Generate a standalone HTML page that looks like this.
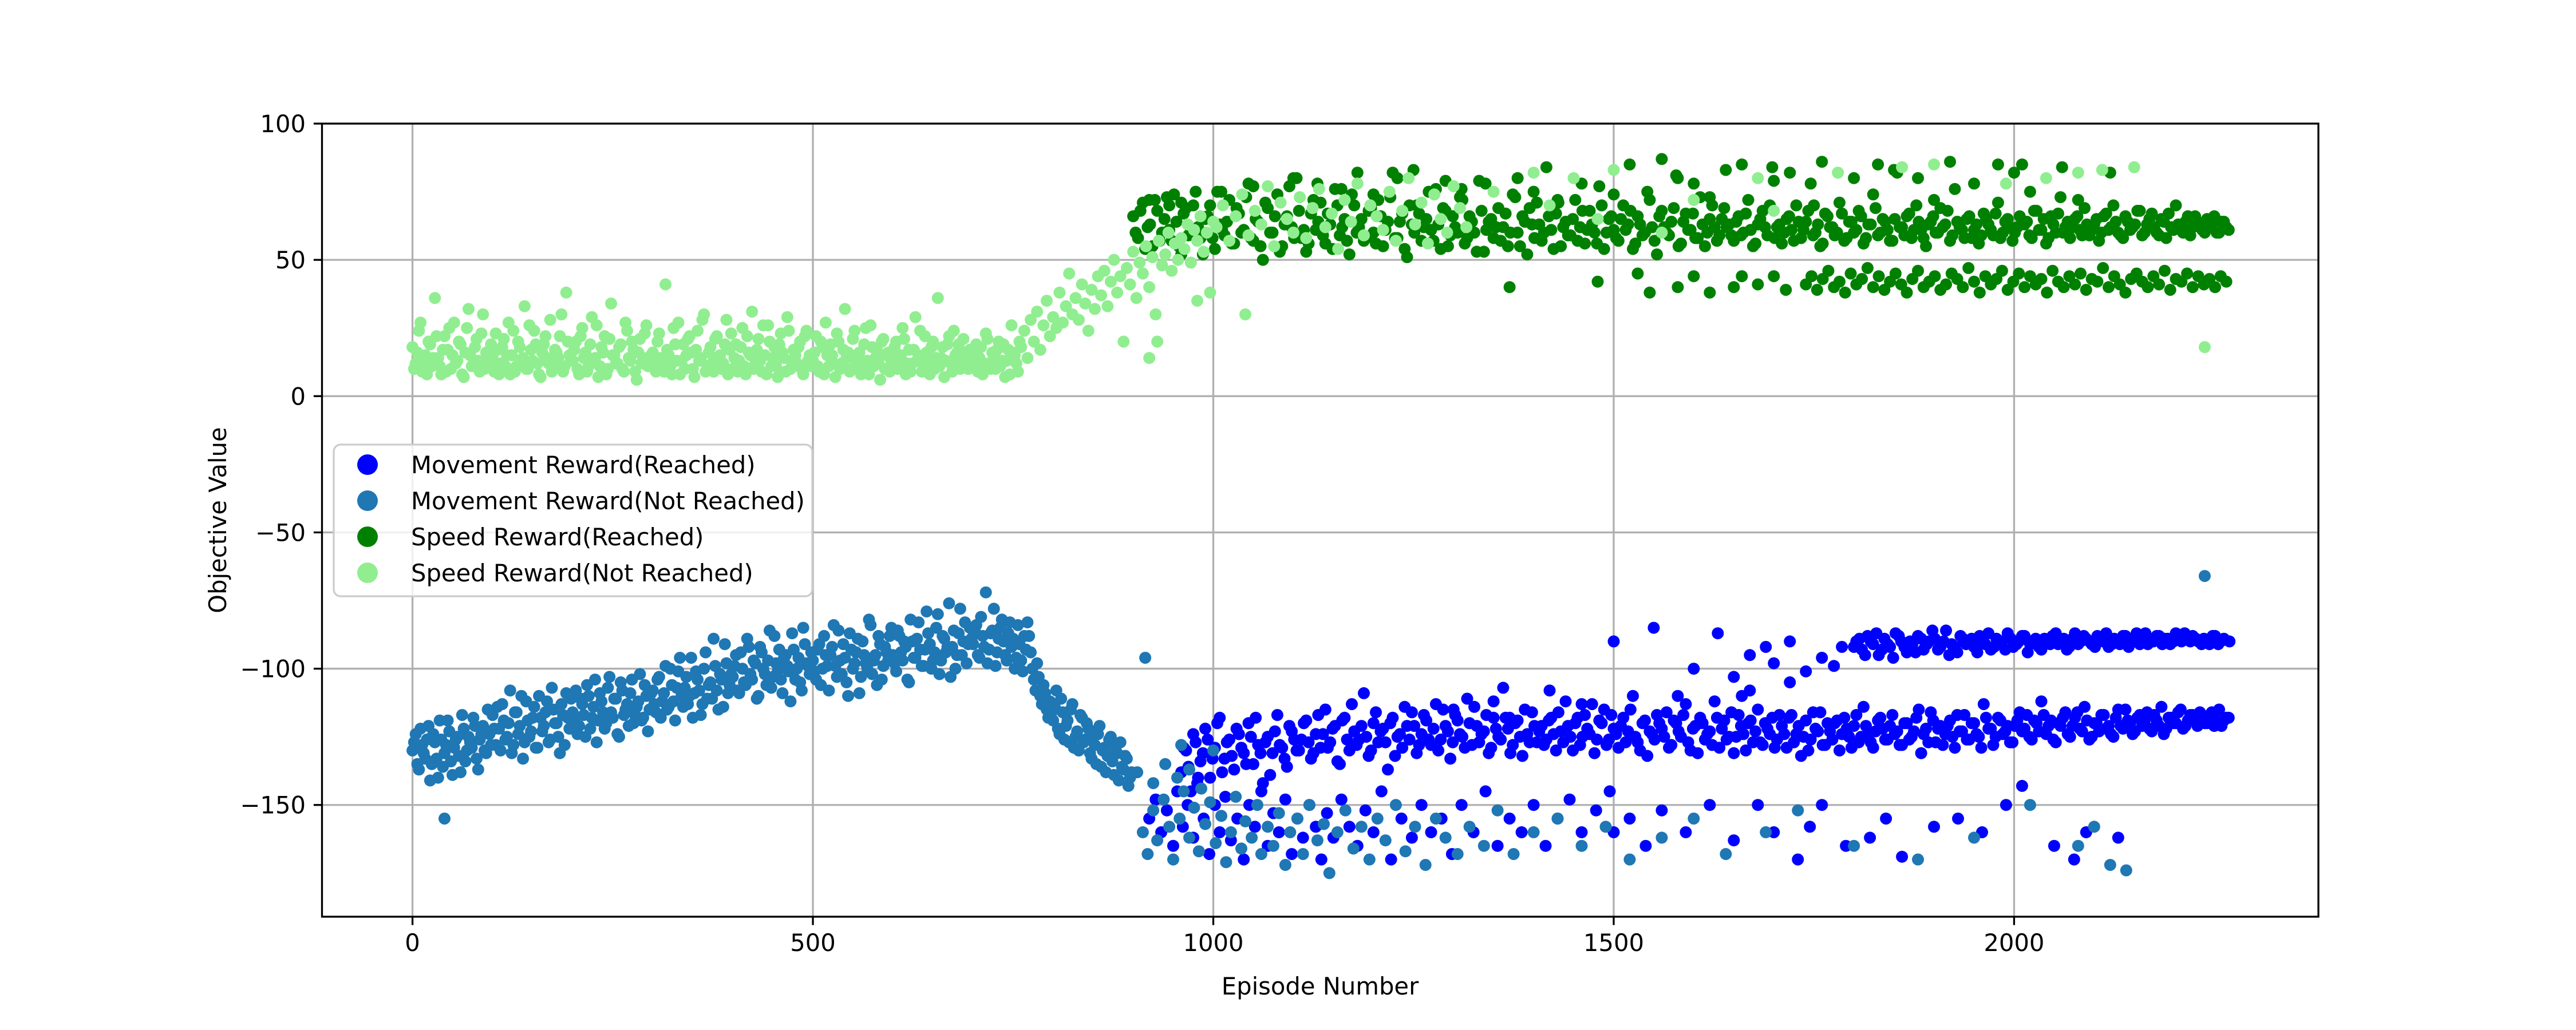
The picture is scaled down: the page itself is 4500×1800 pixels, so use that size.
<!DOCTYPE html>
<html><head><meta charset="utf-8"><style>
html,body{margin:0;padding:0;background:#fff;}
svg{display:block;font-family:"DejaVu Sans","Liberation Sans",sans-serif;}
</style></head><body>
<svg id="chart" width="4500" height="1800" viewBox="0 0 4500 1800" xmlns="http://www.w3.org/2000/svg">
<rect x="0" y="0" width="4500" height="1800" fill="#fff"/>
<g id="grid"></g>
<g id="marks"></g>
<g id="axes"></g>
<text x="2306" y="1738" font-size="41.7" text-anchor="middle">Episode Number</text>
<text transform="translate(395,909) rotate(-90)" font-size="41.7" text-anchor="middle">Objective Value</text>
<g id="legend">
<rect x="583" y="777" width="836" height="265" rx="12" fill="#fff" fill-opacity="0.8" stroke="#cccccc" stroke-width="3.3"/>
<g><circle cx="642" cy="812" r="18" fill="#0000ff"/><text x="718" y="827" font-size="41.7">Movement Reward(Reached)</text></g>
<g><circle cx="642" cy="875" r="18" fill="#1f77b4"/><text x="718" y="890" font-size="41.7">Movement Reward(Not Reached)</text></g>
<g><circle cx="642" cy="938" r="18" fill="#008000"/><text x="718" y="953" font-size="41.7">Speed Reward(Reached)</text></g>
<g><circle cx="642" cy="1001" r="18" fill="#90ee90"/><text x="718" y="1016" font-size="41.7">Speed Reward(Not Reached)</text></g>
</g>
</svg>
<script>
const xTicks = [0, 500, 1000, 1500, 2000];
const yTicks = [-150, -100, -50, 0, 50, 100];
const xTickLabels = ["0", "500", "1000", "1500", "2000"];
const yTickLabels = ["\u2212150", "\u2212100", "\u221250", "0", "50", "100"];

// Movement Reward (Not Reached) - dense early band, x = 0,4,8,...
const movNotDenseY = [
-130,-124,-137,-128,-133,-121,-135,-127,-140,-126,-131,-119,-134,-129,-125,-138,-122,-130,-127,-118,-133,-126,-121,-131,-124,
-117,-128,-122,-113,-126,-120,-131,-116,-124,-110,-127,-119,-123,-114,-129,-118,-121,-112,-126,-115,-120,-131,-117,-109,-122,
-116,-108,-121,-113,-125,-110,-118,-104,-119,-112,-122,-107,-116,-111,-124,-105,-117,-113,-109,-120,-114,-102,-118,-110,-115,
-108,-116,-103,-112,-99,-114,-106,-119,-101,-110,-107,-113,-96,-109,-104,-117,-100,-111,-105,-89,-108,-102,-114,-98,-106,
-103,-95,-109,-100,-106,-92,-104,-98,-110,-94,-102,-97,-107,-88,-101,-104,-96,-99,-112,-93,-100,-105,-85,-98,-102,
-97,-104,-91,-100,-95,-108,-92,-99,-86,-102,-96,-110,-93,-98,-89,-103,-95,-100,-84,-97,-106,-91,-99,-94,-88,
-95,-101,-88,-97,-92,-105,-90,-96,-83,-99,-93,-87,-100,-94,-80,-97,-89,-92,-103,-86,-95,-78,-90,-98,-85,
-91,-84,-96,-88,-72,-93,-86,-99,-89,-82,-95,-87,-92,-100,-84,-97,-88,-83,-94,-104,-98,-110,-106,-115,-112,
-119,-108,-124,-116,-121,-127,-113,-125,-130,-118,-126,-122,-133,-128,-124,-136,-129,-132,-125,-139,-131,-127,-137,-133,-140];
// second pass, x = 2,6,10,...
const movNotDense2Y = [
-127,-135,-122,-131,-126,-141,-124,-133,-119,-136,-128,-123,-139,-126,-132,-117,-134,-125,-129,-121,-137,-124,-130,-115,-128,
-122,-114,-130,-119,-125,-108,-128,-116,-121,-133,-112,-125,-118,-129,-110,-123,-116,-127,-107,-120,-125,-113,-128,-118,-111,
-119,-124,-111,-117,-106,-122,-114,-127,-109,-116,-120,-103,-118,-111,-125,-108,-115,-121,-104,-117,-112,-119,-106,-123,-109,
-113,-104,-118,-109,-115,-100,-112,-107,-96,-114,-103,-110,-118,-101,-108,-113,-94,-106,-111,-99,-115,-104,-91,-109,-102,
-99,-108,-94,-105,-89,-102,-97,-111,-92,-100,-106,-86,-103,-98,-93,-109,-95,-101,-87,-104,-96,-108,-91,-99,-94,
-101,-93,-106,-88,-99,-95,-84,-103,-97,-91,-105,-87,-100,-94,-109,-90,-98,-82,-102,-95,-88,-104,-92,-97,-85,
-98,-86,-94,-90,-104,-82,-96,-89,-93,-99,-79,-91,-97,-85,-102,-88,-94,-76,-92,-100,-87,-95,-83,-91,-89,
-86,-95,-81,-92,-98,-87,-78,-94,-85,-90,-97,-83,-89,-96,-91,-101,-93,-88,-100,-108,-103,-113,-109,-118,-116,
-114,-122,-111,-126,-119,-115,-129,-123,-117,-127,-120,-131,-125,-135,-121,-130,-138,-126,-134,-129,-141,-136,-132,-143,-138];
const movNotExtraX = [912,918,925,930,938,945,950,958,963,970,976,982,990,996,1003,1010,1016,1022,1028,1035,1040,1048,1055,1060,1068,1075,1082,1090,1096,1105,1112,1120,1130,1138,1145,1155,1165,1175,1185,1195,1205,1215,1228,1240,1252,1265,1278,1290,1305,1320,1338,1355,1375,1400,1430,1460,1490,1520,1560,1600,1640,1690,1730,1800,1880,1950,2020,2080,2100,2140,2120,40,2238,915,1000,960,905,925,940,955,970,985];
const movNotExtraY = [-160,-168,-152,-163,-148,-158,-170,-155,-145,-162,-151,-167,-157,-149,-164,-154,-171,-160,-147,-166,-156,-162,-150,-168,-158,-165,-153,-172,-160,-155,-168,-150,-163,-157,-175,-160,-152,-166,-158,-170,-155,-163,-150,-167,-158,-172,-155,-162,-168,-158,-165,-152,-168,-160,-155,-165,-158,-170,-162,-155,-168,-160,-152,-165,-170,-162,-150,-165,-158,-174,-172,-155,-66,-96,-130,-128,-138,-142,-135,-140,-137,-144];

// Movement Reward (Reached) main band, x = 960,966,...
const movReachMainY = [
-138,-130,-145,-127,-134,-122,-140,-129,-118,-133,-126,-137,-124,-131,-120,-135,-128,-142,-125,-131,-117,-129,-136,-123,-130,
-126,-119,-133,-124,-129,-115,-127,-121,-135,-118,-130,-123,-126,-109,-132,-120,-127,-122,-137,-118,-125,-129,-121,-116,-131,
-124,-119,-128,-113,-126,-121,-133,-117,-124,-129,-120,-114,-127,-123,-131,-118,-125,-107,-122,-128,-119,-132,-124,-116,-127,
-121,-126,-118,-130,-123,-112,-125,-120,-128,-117,-124,-131,-119,-115,-126,-122,-129,-118,-123,-110,-127,-120,-132,-124,-117,
-122,-116,-128,-120,-125,-113,-130,-121,-118,-126,-123,-112,-129,-119,-125,-131,-117,-124,-120,-127,-115,-128,-122,-118,-126,
-121,-129,-117,-124,-132,-119,-126,-122,-116,-128,-123,-120,-130,-118,-125,-121,-127,-114,-124,-129,-119,-122,-126,-117,-123,
-128,-120,-125,-118,-131,-122,-116,-127,-121,-124,-119,-129,-123,-117,-126,-120,-125,-113,-122,-128,-118,-124,-121,-127,-119,
-123,-117,-126,-120,-112,-124,-119,-127,-121,-116,-125,-118,-122,-114,-126,-120,-123,-117,-121,-125,-115,-122,-119,-124,-118,
-121,-116,-123,-119,-114,-122,-118,-120,-115,-121,-117,-119,-116,-120,-117,-121,-115,-119,-118];
// second pass, x = 963,969,...
const movReachMain2Y = [
-129,-136,-124,-140,-131,-126,-133,-120,-138,-127,-132,-122,-129,-135,-125,-118,-131,-127,-139,-123,-128,-133,-121,-126,-130,
-120,-127,-131,-117,-124,-129,-122,-134,-119,-126,-113,-128,-121,-125,-130,-116,-123,-127,-120,-132,-124,-114,-126,-121,-128,
-117,-126,-122,-130,-115,-123,-127,-119,-125,-111,-128,-121,-124,-117,-129,-122,-126,-118,-131,-120,-125,-115,-127,-121,-123,
-128,-119,-124,-116,-127,-121,-130,-118,-125,-122,-113,-126,-120,-128,-117,-124,-121,-127,-115,-125,-130,-119,-123,-126,-120,
-125,-129,-119,-123,-117,-127,-122,-131,-120,-124,-128,-118,-122,-126,-116,-125,-121,-130,-119,-123,-127,-120,-124,-129,-117,
-124,-118,-127,-121,-125,-130,-116,-123,-128,-120,-126,-119,-124,-122,-129,-117,-125,-121,-127,-123,-118,-126,-121,-124,-128,
-120,-126,-123,-115,-124,-127,-119,-122,-128,-121,-125,-117,-123,-126,-120,-124,-129,-118,-122,-125,-119,-123,-127,-121,-116,
-122,-125,-119,-123,-117,-121,-126,-120,-118,-124,-121,-116,-123,-119,-125,-120,-117,-122,-124,-118,-121,-115,-120,-123,-117,
-119,-122,-117,-121,-124,-118,-120,-116,-122,-119,-117,-121,-118,-120,-116,-119,-121,-118];
// upper band, x = 1800,1807,...
const movReachUpperY = [-92,-89,-95,-90,-87,-93,-91,-96,-88,-92,-90,-94,-89,-91,-86,-93,-90,-95,-92,-88,-91,-89,-94,-90,-87,-92,-90,-93,-89,-91,-88,-94,-90,-92,-89,-91,-87,-90,-93,-89,-91,-88,-90,-92,-89,-87,-91,-90,-88,-92,-89,-91,-87,-90,-88,-91,-89,-90,-88,-87,-90,-89,-91,-90,-88,-91,-89,-90];
// upper band second pass, x = 1803,1810,...
const movReachUpper2Y = [-90,-93,-88,-91,-95,-89,-92,-87,-90,-94,-91,-88,-93,-90,-89,-92,-86,-91,-94,-89,-90,-92,-88,-91,-93,-89,-90,-87,-92,-90,-88,-91,-89,-93,-90,-88,-91,-89,-92,-87,-90,-89,-91,-88,-90,-92,-89,-91,-88,-90,-87,-89,-91,-90,-88,-89,-91,-87,-90,-89,-88,-90,-89,-91,-88,-90];
const movReachExtraX = [1500,1550,1600,1630,1650,1670,1690,1700,1720,1740,1760,1775,1785,1660,1670,1720,1580,
920,928,935,942,950,955,962,968,975,980,988,995,1002,1008,1015,1022,1030,1038,1045,1052,1060,1068,1075,1082,1090,1098,1105,1112,1120,1128,1135,1142,1150,1160,1170,1180,1190,1200,1210,1222,1235,1248,1260,1272,1285,1298,1310,1325,1340,1355,1370,1385,1400,1415,1430,1445,1460,1478,1495,1500,1520,1540,1560,1590,1620,1650,1680,1700,1730,1745,1760,1790,1820,1840,1860,1900,1930,1960,1990,2010,2050,2075,2090,2130,1370,1300,1350,1420,1460];
const movReachExtraY = [-90,-85,-100,-87,-103,-95,-92,-98,-90,-101,-96,-99,-92,-110,-108,-105,-110,
-155,-148,-160,-152,-165,-145,-158,-150,-162,-142,-155,-168,-150,-160,-147,-163,-155,-170,-150,-158,-145,-165,-153,-160,-148,-168,-155,-162,-150,-158,-170,-153,-162,-148,-158,-165,-152,-160,-145,-170,-155,-162,-150,-160,-155,-168,-150,-160,-145,-165,-155,-160,-150,-165,-155,-148,-160,-152,-145,-160,-155,-165,-152,-160,-150,-163,-150,-160,-170,-158,-150,-165,-162,-155,-169,-158,-155,-160,-150,-143,-165,-170,-160,-162,-118,-115,-112,-108,-113];

// Speed Reward (Reached) main band, x = 900,906,...
const speedReachMainY = [
66,58,71,62,55,68,60,73,57,64,52,69,61,75,58,65,70,54,63,59,72,56,67,61,78,
57,64,50,69,60,74,55,66,62,80,58,53,67,61,71,56,63,76,59,65,52,70,62,57,68,
60,72,55,64,82,58,67,51,63,70,57,65,61,76,54,68,59,62,73,56,66,60,79,53,64,
58,69,62,55,74,60,66,52,63,71,57,84,61,67,55,64,59,72,62,56,68,60,77,54,65,
61,57,70,63,54,66,59,75,62,52,68,60,64,81,56,67,61,58,73,55,65,62,59,69,63,
57,66,60,72,55,63,68,59,84,62,56,65,61,70,58,64,78,60,55,67,62,59,71,57,64,
60,68,56,63,74,59,65,61,57,82,62,66,58,70,61,55,64,60,69,63,57,76,62,58,66,
61,56,67,63,59,71,60,65,57,62,85,64,58,68,61,56,66,60,73,62,58,65,61,69,59,
63,57,66,61,70,60,58,64,62,68,59,63,67,60,65,58,62,70,61,64,59,66,62,60,62,66,60,64,61];
// second pass, x = 903,909,...
const speedReachMain2Y = [
60,68,54,63,72,57,65,61,74,55,67,59,70,62,52,66,58,75,61,64,56,69,60,73,58,
65,55,71,60,66,53,63,77,58,68,61,56,72,64,59,67,54,70,62,57,74,60,65,58,69,
56,66,61,73,58,64,54,70,60,67,62,75,57,63,69,55,66,60,72,58,64,53,68,61,65,
62,57,67,60,73,55,64,69,58,63,60,66,54,71,62,59,65,57,68,61,63,56,70,60,66,
58,65,61,68,56,63,60,72,57,66,62,59,69,55,64,61,67,58,63,60,70,57,65,62,59,
64,59,67,61,56,65,62,70,58,63,60,66,57,64,61,68,59,63,56,66,62,60,67,58,64,
61,66,58,63,69,60,64,57,65,62,59,67,61,64,58,63,66,60,62,68,59,64,61,65,58,
63,59,65,61,67,58,64,62,60,66,63,59,68,61,65,58,63,67,60,64,62,66,59,63,61,
65,60,67,62,64,59,66,61,63,68,60,65,62,59,64,67,61,63,60,66,62,64,61,65,63,60,64,62];
// lower band, x = 1740,1747,...
const speedReachLowerY = [41,44,39,43,46,40,42,38,45,41,43,47,40,44,39,42,45,41,38,43,46,40,42,44,39,41,45,43,40,47,42,38,44,41,43,46,39,42,45,40,44,41,43,38,46,42,40,44,41,45,39,43,42,47,40,44,41,38,43,45,42,40,44,41,46,39,43,42,45,40,44,41,43,40,44,42];
const speedReachExtraX = [1480,1530,1545,1580,1600,1620,1650,1660,1680,1700,1715,1370,920,945,960,1010,1050,1080,1100,1130,1160,1180,1200,1230,1250,1290,1310,1340,1380,1400,1430,1460,1500,1520,1560,1580,1600,1640,1660,1700,1720,1760,1800,1830,1850,1880,1920,1950,1980,2000,2020,2060,2120,2080,1750,1900,1620];
const speedReachExtraY = [42,45,38,40,44,38,40,44,41,44,39,40,72,70,71,75,77,74,80,78,76,82,74,80,83,79,76,78,80,75,72,78,74,85,87,80,78,83,85,79,82,86,80,85,83,80,86,78,85,82,75,84,82,72,70,72,73];

// Speed Reward (Not Reached), x = 0,4,...,1000
const speedNotDenseY = [
18,12,24,9,15,20,11,36,14,8,22,17,10,27,13,19,7,25,15,11,21,9,30,16,12,
14,23,8,18,11,27,15,9,20,13,33,10,17,24,12,7,19,14,28,11,16,22,9,38,15,
13,20,8,25,16,11,29,14,7,18,22,10,34,15,12,19,9,24,13,17,6,21,14,26,11,
16,9,23,12,41,15,8,19,27,13,10,21,16,7,24,14,30,11,18,9,22,15,12,28,17,
10,19,13,25,8,16,31,12,21,9,15,26,11,18,7,23,14,29,10,17,12,20,8,24,15,
13,22,9,18,27,11,15,7,20,12,32,16,10,24,14,8,19,13,26,11,17,6,21,15,9,
14,20,11,25,8,17,12,29,15,9,22,13,18,10,36,14,7,19,12,24,16,10,21,13,17,
11,19,14,8,23,12,16,10,20,13,7,17,26,15,9,
18,24,14,28,20,31,17,26,35,22,29,25,38,27,33,45,30,36,28,41,34,24,39,32,44,
37,46,33,42,50,38,44,20,47,41,53,36,49,45,55,40,51,30,57,48,52,60,46,56,50,
58,54,63,49,61,57,66,53,60,38,64];
// second pass, x = 2,6,...
const speedNotDense2Y = [
10,16,27,13,8,19,14,22,11,17,9,25,15,12,20,8,16,32,11,18,13,23,10,15,19,
9,17,12,21,15,8,24,11,18,14,10,26,13,19,8,16,22,12,9,17,14,30,11,20,13,
17,10,22,14,9,19,13,26,11,16,8,21,15,12,18,10,27,14,20,9,16,12,23,11,15,
12,20,14,9,17,11,25,13,8,19,15,22,10,17,13,28,9,16,12,21,14,10,19,8,23,
14,9,18,11,22,15,10,17,13,26,8,20,14,11,19,16,9,24,12,15,18,10,22,13,11,
16,11,20,8,15,19,12,23,10,17,14,9,21,13,16,11,25,8,18,14,12,20,10,16,13,
18,10,15,21,12,9,17,13,24,11,16,8,20,14,11,18,13,22,9,15,19,12,16,10,14,
15,9,18,12,21,10,14,17,11,19,13,8,16,12,20];
const speedNotLateY = [62,70,57,66,74,59,68,63,77,55,71,65,60,73,58,69,76,62,67,54,72,64,78,59,70,66,61,75,57,68,80,63,71,56,74,65,60,77,69,62];
const speedNotExtraX = [1350,1400,1420,1450,1480,1500,1560,1600,1680,1700,1780,1860,1900,1990,2040,2080,2110,2238,2150,930,920,1040,980];
const speedNotExtraY = [75,82,70,80,65,83,60,72,80,68,82,84,85,78,80,82,83,18,84,20,14,30,35];

const X0 = 562.5, X1 = 4050, Y0 = 1602, Y1 = 216;
const XMIN = -113, XMAX = 2380, YMIN = -191, YMAX = 100;
function sx(v){ return X0 + (v - XMIN) / (XMAX - XMIN) * (X1 - X0); }
function sy(v){ return Y0 - (v - YMIN) / (YMAX - YMIN) * (Y0 - Y1); }
const NS = "http://www.w3.org/2000/svg";
function mk(tag, attrs, parent){ const e = document.createElementNS(NS, tag); for (const k in attrs) e.setAttribute(k, attrs[k]); parent.appendChild(e); return e; }

const grid = document.getElementById('grid');
const axes = document.getElementById('axes');
const marks = document.getElementById('marks');

xTicks.forEach((t, i) => {
  const gl = mk('line', {x1: sx(t), x2: sx(t), y1: Y1, y2: Y0, stroke: '#b0b0b0', 'stroke-width': 3.3}, grid);
  
  
  const tk = mk('line', {x1: sx(t), x2: sx(t), y1: Y0, y2: Y0 + 14.6, stroke: '#000', 'stroke-width': 3.3}, axes);
  
  
  const lb = mk('text', {x: sx(t), y: 1662, 'font-size': 41.7, 'text-anchor': 'middle'}, axes);
  lb.textContent = xTickLabels[i];
  
  
});
yTicks.forEach((t, i) => {
  const gl = mk('line', {x1: X0, x2: X1, y1: sy(t), y2: sy(t), stroke: '#b0b0b0', 'stroke-width': 3.3}, grid);
  
  
  const tk = mk('line', {x1: X0 - 14.6, x2: X0, y1: sy(t), y2: sy(t), stroke: '#000', 'stroke-width': 3.3}, axes);
  
  
  const lb = mk('text', {x: 534, y: sy(t) + 15, 'font-size': 41.7, 'text-anchor': 'end'}, axes);
  lb.textContent = yTickLabels[i];
  
  
});
const frame = mk('rect', {x: X0, y: Y1, width: X1 - X0, height: Y0 - Y1, fill: 'none', stroke: '#000', 'stroke-width': 3.3}, axes);



function drawSeries(name, color, xs, ys){
  const g = mk('g', {fill: color}, marks);
  
  
  for (let i = 0; i < ys.length; i++){
    const c = mk('circle', {cx: sx(xs[i]).toFixed(1), cy: sy(ys[i]).toFixed(1), r: 10.5}, g);
    
    
  }
}
function stepX(start, step, n){ const a = []; for (let i = 0; i < n; i++) a.push(start + i * step); return a; }

drawSeries('movement-reached-series', '#0000ff', stepX(960, 6, movReachMainY.length), movReachMainY);
drawSeries('movement-reached-series-2', '#0000ff', stepX(963, 6, movReachMain2Y.length), movReachMain2Y);
drawSeries('movement-reached-upper', '#0000ff', stepX(1800, 7, movReachUpperY.length), movReachUpperY);
drawSeries('movement-reached-upper-2', '#0000ff', stepX(1803, 7, movReachUpper2Y.length), movReachUpper2Y);
drawSeries('movement-reached-extra', '#0000ff', movReachExtraX, movReachExtraY);
drawSeries('movement-not-reached-series', '#1f77b4', stepX(0, 4, movNotDenseY.length), movNotDenseY);
drawSeries('movement-not-reached-series-2', '#1f77b4', stepX(2, 4, movNotDense2Y.length), movNotDense2Y);
drawSeries('movement-not-reached-extra', '#1f77b4', movNotExtraX, movNotExtraY);
drawSeries('speed-reached-series', '#008000', stepX(900, 6, speedReachMainY.length), speedReachMainY);
drawSeries('speed-reached-series-2', '#008000', stepX(903, 6, speedReachMain2Y.length), speedReachMain2Y);
drawSeries('speed-reached-lower', '#008000', stepX(1740, 7, speedReachLowerY.length), speedReachLowerY);
drawSeries('speed-reached-extra', '#008000', speedReachExtraX, speedReachExtraY);
drawSeries('speed-not-reached-series', '#90ee90', stepX(0, 4, speedNotDenseY.length), speedNotDenseY);
drawSeries('speed-not-reached-series-2', '#90ee90', stepX(2, 4, speedNotDense2Y.length), speedNotDense2Y);
drawSeries('speed-not-reached-late', '#90ee90', stepX(1004, 8, speedNotLateY.length), speedNotLateY);
drawSeries('speed-not-reached-extra', '#90ee90', speedNotExtraX, speedNotExtraY);
</script>
</body></html>
